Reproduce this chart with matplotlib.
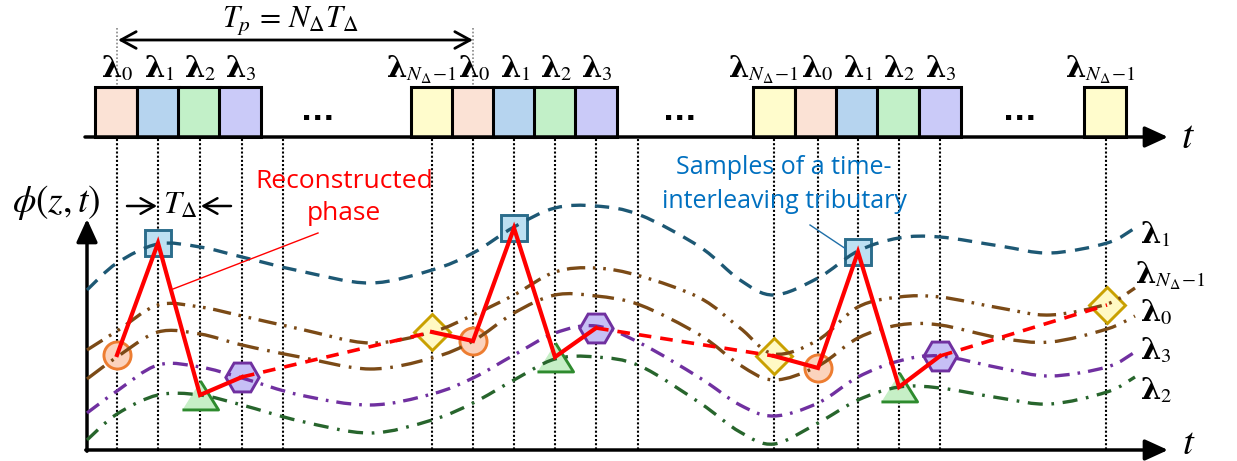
import numpy as np
import matplotlib
matplotlib.use('Agg')
import matplotlib.pyplot as plt
from matplotlib.path import Path
from matplotlib.patches import PathPatch, Rectangle

plt.rcParams['mathtext.fontset'] = 'custom'
plt.rcParams['mathtext.rm'] = 'STIXGeneral'
plt.rcParams['mathtext.it'] = 'STIXGeneral:italic'
plt.rcParams['mathtext.bf'] = 'DejaVu Serif:bold'
plt.rcParams['font.family'] = ['DejaVu Sans']

W, H = 1237, 461

# ---------------- data (diagram units, y grows downward) ----------------
curve_t = [87, 117, 158, 200, 242, 300, 370, 432, 473, 514, 555, 596, 640, 700,
           740, 774, 818, 858, 899, 940, 1000, 1050, 1107, 1135]
phi_l1 = [290, 263, 244, 247, 257, 271, 283, 270, 253, 227, 208, 206, 215, 247,
          280, 295, 278, 251, 238, 237, 246, 253, 243, 228]
phi_lN = [350, 331, 305, 307, 316, 329, 343, 332, 315, 295, 272, 268, 276, 298,
          328, 354, 340, 307, 297, 297, 308, 315, 304, 288]
phi_l0 = [379, 357, 332, 334, 345, 357, 369, 358, 341, 313, 295, 296, 305, 335,
          365, 380, 366, 338, 325, 325, 338, 342, 329, 316]
phi_l3 = [413, 391, 365, 367, 378, 395, 405, 394, 378, 355, 333, 326, 343, 378,
          405, 416, 403, 377, 361, 356, 368, 376, 367, 352]
phi_l2 = [440, 414, 395, 395, 405, 421, 433, 420, 403, 380, 359, 357, 366, 403,
          432, 444, 423, 400, 387, 388, 398, 404, 392, 377]

samp_t = [117, 158, 200, 242, 432, 473, 514, 555, 596, 774, 818, 858, 899, 940, 1107]
samp_phi = [355, 243, 395, 377, 332, 341, 228, 357, 328, 356, 368, 252, 387, 356, 305]
samp_kind = ['l0', 'l1', 'l2', 'l3', 'lN', 'l0', 'l1', 'l2', 'l3',
             'lN', 'l0', 'l1', 'l2', 'l3', 'lN']

grid_t = [117, 158, 200, 242, 283, 432, 473, 514, 555, 596, 638,
          774, 818, 858, 899, 940, 1106]
box_t = [116, 158, 199, 240, 432, 473, 514, 555, 596, 774, 816, 857, 898, 940, 1105]
box_kind = ['l0', 'l1', 'l2', 'l3', 'lN', 'l0', 'l1', 'l2', 'l3',
            'lN', 'l0', 'l1', 'l2', 'l3', 'lN']
box_width = 41.5

sub = {'l0': '0', 'l1': '1', 'l2': '2', 'l3': '3', 'lN': r'N_\Delta\!-\!1'}
box_color = {'l0': '#fbe2d5', 'l1': '#b6d4ef', 'l2': '#c2f0c8',
             'l3': '#cacaf8', 'lN': '#fffccc'}
mk = {
    'l0': dict(marker='o', ms=19.5, mfc='#fbd3bd', mec='#ed7d31'),
    'l1': dict(marker='s', ms=19, mfc='#bde0f2', mec='#2b6d8c'),
    'l2': dict(marker=[(-1, -0.8), (1, -0.8), (0, 0.8)], ms=26, mfc='#c6efc6', mec='#2e8b2e'),
    'l3': dict(marker='H', ms=24, mfc='#c6bff5', mec='#7030a0'),
    'lN': dict(marker='D', ms=18, mfc='#fff9c4', mec='#c9a000'),
}

fig = plt.figure(figsize=(W / 100, H / 100), dpi=100)
ax = fig.add_axes([0, 0, 1, 1])
ax.set_xlim(0, W)
ax.set_ylim(H, 0)
ax.axis('off')


def smooth_path(xs, ys):
    P = np.column_stack([xs, ys]).astype(float)
    n = len(P)
    verts = [P[0]]
    codes = [Path.MOVETO]
    for i in range(n - 1):
        p0 = P[i - 1] if i > 0 else P[i]
        p1, p2 = P[i], P[i + 1]
        p3 = P[i + 2] if i + 2 < n else P[i + 1]
        c1 = p1 + (p2 - p0) / 6.0
        c2 = p2 - (p3 - p1) / 6.0
        verts += [c1, c2, p2]
        codes += [Path.CURVE4] * 3
    return Path(verts, codes)


LAMFS = 21

# ---------------- top time-slot row ----------------
top_y = 137
box_top = 87
for t, k in zip(box_t, box_kind):
    ax.add_patch(Rectangle((t - box_width / 2, box_top), box_width, top_y - box_top,
                           facecolor=box_color[k], edgecolor='black', lw=2.2, zorder=3))
for i, (t, k) in enumerate(zip(box_t, box_kind)):
    lab = r'$\mathbf{\lambda}_{%s}$' % sub[k]
    if k == 'lN' and i < len(box_t) - 1:
        ax.text(t + 25, 77, lab, ha='right', va='baseline', fontsize=LAMFS, zorder=5)
    else:
        ax.text(t + (-5 if k == 'lN' else 1), 77, lab, ha='center', va='baseline',
                fontsize=LAMFS, zorder=5)
for xe in [318, 680, 1020]:
    ax.text(xe, 120, '...', ha='center', va='baseline', fontsize=21,
            fontweight='bold', color='black')

ax.annotate('', xy=(1168, top_y), xytext=(85, top_y),
            arrowprops=dict(arrowstyle='-|>,head_length=0.7,head_width=0.32',
                            mutation_scale=20, lw=2.5, color='black',
                            shrinkA=0, shrinkB=0), zorder=4)
ax.text(1188, 148, r'$t$', fontsize=29, ha='center', va='baseline')

# Tp arrow
ax.annotate('', xy=(118, 40), xytext=(473, 40),
            arrowprops=dict(arrowstyle='<->,head_length=0.55,head_width=0.3',
                            mutation_scale=20, lw=2, color='black',
                            shrinkA=0, shrinkB=0))
ax.text(290, 27, r'$T_p\,=\,N_\Delta T_\Delta$', fontsize=22, ha='center', va='baseline')
for xg in [117, 473]:
    ax.plot([xg, xg], [28, 86], color='#888888', lw=1.2, ls=(0, (1, 1.2)), zorder=1)

# vertical dotted grid
for xg in grid_t:
    ax.plot([xg, xg], [top_y + 2, 450], color='black', lw=1.5,
            ls=(0, (1, 1.0)), zorder=1)

# ---------------- lower phase plot ----------------
ax.annotate('', xy=(1168, 450), xytext=(85.8, 450),
            arrowprops=dict(arrowstyle='-|>,head_length=0.7,head_width=0.32',
                            mutation_scale=20, lw=2.5, color='black',
                            shrinkA=0, shrinkB=0), zorder=4)
ax.annotate('', xy=(87, 219), xytext=(87, 451.2),
            arrowprops=dict(arrowstyle='-|>,head_length=0.7,head_width=0.32',
                            mutation_scale=20, lw=2.5, color='black',
                            shrinkA=0, shrinkB=0), zorder=4)
ax.text(1189, 454, r'$t$', fontsize=28, ha='center', va='baseline')
ax.text(56, 212, r'$\phi(z,t)$', fontsize=27, ha='center', va='baseline')

# T_delta marker
ax.annotate('', xy=(157, 206), xytext=(127, 206),
            arrowprops=dict(arrowstyle='->,head_length=0.5,head_width=0.28',
                            mutation_scale=20, lw=1.8, color='black',
                            shrinkA=0, shrinkB=0))
ax.annotate('', xy=(201, 206), xytext=(231, 206),
            arrowprops=dict(arrowstyle='->,head_length=0.5,head_width=0.28',
                            mutation_scale=20, lw=1.8, color='black',
                            shrinkA=0, shrinkB=0))
ax.text(180, 214, r'$T_\Delta$', fontsize=23, ha='center', va='baseline')

curves = [
    (phi_l1, '#1d5874', (0, (4.3, 2.8))),
    (phi_lN, '#7b4a16', (0, (5.5, 2.3, 0.8, 2.3, 0.8, 2.3))),
    (phi_l0, '#7b4a16', (0, (6.5, 2.6, 0.8, 2.6))),
    (phi_l3, '#7030a0', (0, (4.5, 2.4, 0.8, 2.4))),
    (phi_l2, '#27652c', (0, (4.5, 2.6, 0.8, 2.6))),
]
for ys, col, ls in curves:
    ax.add_patch(PathPatch(smooth_path(curve_t, ys), facecolor='none',
                           edgecolor=col, lw=2.4, ls=ls, zorder=4))

# samples
for t, p, k in zip(samp_t, samp_phi, samp_kind):
    ax.plot([t], [p], ls='none', mew=2.1, zorder=3, **mk[k])

# reconstructed phase
groups = [(0, 3), (4, 8), (9, 13)]
for a, b in groups:
    ax.plot(samp_t[a:b + 1], samp_phi[a:b + 1], color='#ff0000', lw=3,
            solid_joinstyle='miter', zorder=6)
for a, b in [(3, 4), (8, 9), (13, 14)]:
    ax.plot([samp_t[a], samp_t[b]], [samp_phi[a], samp_phi[b]], color='#ff0000',
            lw=2.6, ls=(0, (3.5, 2.5)), zorder=6)

# right-hand labels
right_lab = [('l1', 1140, 243), ('lN', 1135, 283), ('l0', 1140, 321),
             ('l3', 1140, 359), ('l2', 1140, 399)]
for k, x, y in right_lab:
    ax.text(x, y, r'$\mathbf{\lambda}_{%s}$' % sub[k], fontsize=LAMFS,
            ha='left', va='baseline')

# annotations
ax.text(344, 188, 'Reconstructed', color='#ff0000', fontsize=19,
        family='Open Sans', ha='center', va='baseline')
ax.text(344, 220, 'phase', color='#ff0000', fontsize=19,
        family='Open Sans', ha='center', va='baseline')
ax.plot([318, 173], [233, 289], color='#ff0000', lw=1, zorder=6)

ax.text(784, 174, 'Samples of a time-', color='#0070c0', fontsize=18,
        family='Open Sans', ha='center', va='baseline')
ax.text(784, 208, 'interleaving tributary', color='#0070c0', fontsize=18,
        family='Open Sans', ha='center', va='baseline')
ax.plot([810, 846], [225, 249], color='#1f6fa8', lw=1, zorder=6)

fig.savefig('out.png', dpi=100)
